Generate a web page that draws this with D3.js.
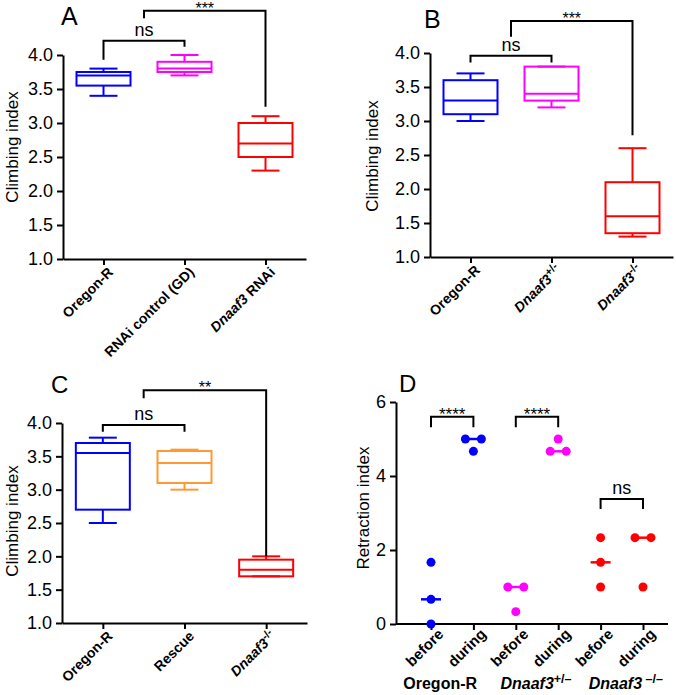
<!DOCTYPE html>
<html><head><meta charset="utf-8">
<script src="https://cdn.jsdelivr.net/npm/d3@7"></script>
<style>
body{margin:0;background:#fff}
svg text{font-family:"Liberation Sans",Arial,Helvetica,sans-serif}
</style>
</head><body>
<svg id="chart" width="676" height="695"></svg>
<script>
// ---------- DATA ----------
const climbTicks = [1.0, 1.5, 2.0, 2.5, 3.0, 3.5, 4.0];

const aLabels = ["Oregon-R", "RNAi control (GD)", "Dnaaf3 RNAi"];
// [min, q1, median, q3, max]
const aStats = [[3.4, 3.55, 3.7, 3.75, 3.8], [3.7, 3.75, 3.8, 3.9, 4.0], [2.3, 2.5, 2.7, 3.0, 3.1]];
const aColors = ["#0000ff", "#ff00ff", "#ff0000"];

const bLabels = ["Oregon-R", "Dnaaf3+/-", "Dnaaf3-/-"];
const bStats = [[3.0, 3.1, 3.3, 3.6, 3.7], [3.2, 3.3, 3.4, 3.8, 3.8], [1.3, 1.35, 1.6, 2.1, 2.6]];
const bColors = ["#0000ff", "#ff00ff", "#ff0000"];

const cLabels = ["Oregon-R", "Rescue", "Dnaaf3-/-"];
const cStats = [[2.5, 2.7, 3.55, 3.7, 3.78], [3.0, 3.1, 3.4, 3.58, 3.6], [1.7, 1.7, 1.8, 1.95, 2.0]];
const cColors = ["#0000ff", "#ff9933", "#ff0000"];

const retractTicks = [0, 2, 4, 6];
const dLabels = ["before", "during", "before", "during", "before", "during"];
const dValues = [[0, 0.667, 1.667], [5, 5, 4.667], [1, 1, 0.333], [5, 4.667, 4.667], [1, 1.667, 2.333], [1, 2.333, 2.333]];
const dColors = ["#0000ff", "#0000ff", "#ff00ff", "#ff00ff", "#ff0000", "#ff0000"];
const dGroups = ["Oregon-R", "Dnaaf3+/–", "Dnaaf3 –/–"];

// significance brackets: [from index, to index, bar value, left leg end, right leg end, label]
const aSig = [[0, 1, 4.21, 3.93, 4.12, "ns"], [0.5, 2, 4.65, 4.54, 3.24, "***"]];
const bSig = [[0, 1, 3.96, 3.86, 3.86, "ns"], [0.5, 2, 4.47, 4.24, 2.79, "***"]];
const cSig = [[0, 1, 3.97, 3.87, 3.87, "ns"], [0.5, 2, 4.49, 4.37, 2.0, "**"]];
const dSig = [[0, 1, 5.6, 5.32, 5.32, "****"], [2, 3, 5.6, 5.32, 5.32, "****"], [4, 5, 3.38, 3.11, 3.11, "ns"]];

// ---------- DRAWING ----------
const svg = d3.select("#chart");
const FONT = "Liberation Sans, Arial, Helvetica, sans-serif";

function richLabel(textSel, s, size) {
  textSel.text(null);
  if (s.startsWith("Dnaaf3")) {
    textSel.append("tspan").attr("font-style", "italic").text("Dnaaf3");
    const rest = s.slice(6);
    if (/^\s?[+\-–]\/[+\-–]$/.test(rest)) {
      textSel.append("tspan").attr("font-size", size * 0.78).attr("dy", -size * 0.38).text(rest);
    } else {
      textSel.append("tspan").text(rest);
    }
  } else {
    textSel.text(s);
  }
}

function xAt(x, i) {
  const d = x.domain();
  const lo = Math.floor(i), hi = Math.ceil(i);
  return x(d[lo]) + (x(d[hi]) - x(d[lo])) * (i - lo);
}

function drawSig(g, x, y, sig, nsSize, starSize) {
  sig.forEach(([a, b, top, l1, l2, lab]) => {
    const x1 = xAt(x, a), x2 = xAt(x, b);
    g.append("path")
      .attr("d", `M${x1},${y(l1)}V${y(top)}H${x2}V${y(l2)}`)
      .attr("fill", "none").attr("stroke", "#000").attr("stroke-width", 2);
    const isStar = lab.includes("*");
    g.append("text")
      .attr("x", (x1 + x2) / 2)
      .attr("y", isStar ? y(top) + 3 : y(top) - 5)
      .attr("text-anchor", "middle")
      .attr("font-size", isStar ? starSize : nsSize)
      .text(lab);
  });
}

function styleAxis(g) {
  g.attr("font-family", FONT);
  g.selectAll("path.domain").attr("stroke-width", 2);
  g.selectAll(".tick line").attr("stroke-width", 2);
}

function boxPanel(opt) {
  const g = svg.append("g");
  const y = d3.scaleLinear().domain([1, 4]).range([opt.yBot, opt.yTop]);
  const x = d3.scalePoint().domain(d3.range(opt.labels.length)).range([opt.x0, opt.x1]).padding(0.5);

  // y axis
  const ya = g.append("g").attr("transform", `translate(${opt.x0},0)`)
    .call(d3.axisLeft(y).tickValues(climbTicks).tickFormat(d3.format(".1f")).tickSize(6).tickSizeOuter(0).tickPadding(4));
  styleAxis(ya);
  ya.selectAll(".tick text").attr("font-size", 18).attr("fill", "#000");

  // x axis
  const xa = g.append("g").attr("transform", `translate(0,${opt.yBot})`)
    .call(d3.axisBottom(x).tickSize(6).tickSizeOuter(0).tickFormat(i => opt.labels[i]));
  styleAxis(xa);
  xa.selectAll(".tick text")
    .attr("x", 0).attr("y", 0).attr("dy", null)
    .attr("text-anchor", "end")
    .attr("transform", "translate(10,14) rotate(-45)")
    .attr("font-size", 14).attr("font-weight", "bold").attr("fill", "#000")
    .each(function (i) { richLabel(d3.select(this), opt.labels[i], 14); });

  // boxes
  const bw = 54, cw = 28;
  opt.stats.forEach((s, i) => {
    const [mn, q1, md, q3, mx] = s;
    const cx = x(i), col = opt.colors[i];
    const bg = g.append("g").attr("stroke", col).attr("stroke-width", 2).attr("fill", "none");
    bg.append("line").attr("x1", cx).attr("x2", cx).attr("y1", y(q3)).attr("y2", y(mx));
    bg.append("line").attr("x1", cx).attr("x2", cx).attr("y1", y(q1)).attr("y2", y(mn));
    bg.append("line").attr("x1", cx - cw / 2).attr("x2", cx + cw / 2).attr("y1", y(mx)).attr("y2", y(mx));
    bg.append("line").attr("x1", cx - cw / 2).attr("x2", cx + cw / 2).attr("y1", y(mn)).attr("y2", y(mn));
    bg.append("rect").attr("x", cx - bw / 2).attr("width", bw).attr("y", y(q3)).attr("height", y(q1) - y(q3));
    bg.append("line").attr("x1", cx - bw / 2).attr("x2", cx + bw / 2).attr("y1", y(md)).attr("y2", y(md));
  });

  drawSig(g, x, y, opt.sig, 18, 16);

  g.append("text").attr("transform", `translate(${opt.titleX},${opt.titleY}) rotate(-90)`)
    .attr("text-anchor", "middle").attr("font-size", 17).text("Climbing index");
  g.append("text").attr("x", opt.letterX).attr("y", opt.letterY).attr("font-size", opt.letterSize).text(opt.letter);
}

boxPanel({labels: aLabels, stats: aStats, colors: aColors, sig: aSig,
  x0: 63, x1: 306, yTop: 55, yBot: 259, titleX: 18, titleY: 147, letter: "A", letterX: 61, letterY: 25, letterSize: 25});
boxPanel({labels: bLabels, stats: bStats, colors: bColors, sig: bSig,
  x0: 430, x1: 673, yTop: 53, yBot: 257, titleX: 378, titleY: 156, letter: "B", letterX: 424, letterY: 28, letterSize: 25});
boxPanel({labels: cLabels, stats: cStats, colors: cColors, sig: cSig,
  x0: 62, x1: 307, yTop: 423, yBot: 623, titleX: 18, titleY: 521, letter: "C", letterX: 51, letterY: 393, letterSize: 24});

// ---------- Panel D ----------
(function () {
  const g = svg.append("g");
  const xL = 396, xR = 668, yTop = 402, yBot = 624;
  const y = d3.scaleLinear().domain([0, 6]).range([yBot, yTop]);
  const x = d3.scalePoint().domain(d3.range(dLabels.length)).range([431, 643]);

  const ya = g.append("g").attr("transform", `translate(${xL},0)`)
    .call(d3.axisLeft(y).tickValues(retractTicks).tickFormat(d3.format("d")).tickSize(6).tickSizeOuter(0).tickPadding(4));
  styleAxis(ya);
  ya.selectAll(".tick text").attr("font-size", 18).attr("fill", "#000");

  const xa = g.append("g").attr("transform", `translate(0,${yBot})`)
    .call(d3.axisBottom(x).tickSize(6).tickSizeOuter(0).tickFormat(i => dLabels[i]));
  styleAxis(xa);
  xa.select("path.domain").remove();
  xa.append("line").attr("x1", xL).attr("x2", xR).attr("stroke", "#000").attr("stroke-width", 2);
  xa.selectAll(".tick text")
    .attr("x", 0).attr("y", 0).attr("dy", null)
    .attr("text-anchor", "end")
    .attr("transform", "translate(13,11) rotate(-45)")
    .attr("font-size", 15).attr("font-weight", "bold").attr("fill", "#000");

  // median lines and points
  dValues.forEach((vals, i) => {
    const cx = x(i), col = dColors[i];
    const med = d3.median(vals);
    g.append("line").attr("x1", cx - 10).attr("x2", cx + 10).attr("y1", y(med)).attr("y2", y(med))
      .attr("stroke", col).attr("stroke-width", 2.5);
    const counts = d3.rollup(vals, v => v.length, v => v);
    const seen = new Map();
    vals.forEach(v => {
      const n = counts.get(v), k = seen.get(v) || 0;
      seen.set(v, k + 1);
      const off = n === 1 ? 0 : (k - (n - 1) / 2) * 16;
      g.append("circle").attr("cx", cx + off).attr("cy", y(v)).attr("r", 4.5).attr("fill", col);
    });
  });

  drawSig(g, x, y, dSig, 18, 17);

  // group labels
  const grpOff = [-12, -1, 4];
  dGroups.forEach((s, k) => {
    const cx = (x(2 * k) + x(2 * k + 1)) / 2 + grpOff[k];
    const t = g.append("text").attr("x", cx).attr("y", 689).attr("text-anchor", "middle")
      .attr("font-size", 16).attr("font-weight", "bold");
    richLabel(t, s, 16);
  });

  g.append("text").attr("transform", `translate(369,508) rotate(-90)`)
    .attr("text-anchor", "middle").attr("font-size", 17).text("Retraction index");
  g.append("text").attr("x", 399).attr("y", 392).attr("font-size", 24).text("D");
})();
</script>
</body></html>
